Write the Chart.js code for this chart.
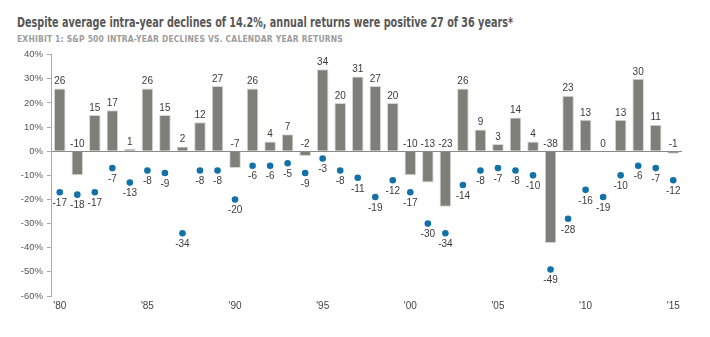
<!DOCTYPE html>
<html>
<head>
<meta charset="utf-8">
<script src="https://cdn.jsdelivr.net/npm/chart.js@4.4.1/dist/chart.umd.min.js"></script>
<style>
  body { margin: 0; background: #fff; width: 710px; height: 337px; overflow: hidden; position: relative; }
  .title, .sub { position: absolute; left: 17px; white-space: nowrap; transform-origin: 0 0; font-family: 'DejaVu Sans', sans-serif; font-stretch: condensed; }
  .title { top: 14px; font-size: 14px; font-weight: 600; color: #575757; }
  .sub { top: 34px; font-size: 9px; font-weight: bold; color: #9c9c9c; letter-spacing: 0.2px; }
  .wrap { position: absolute; left: 0; top: 45px; width: 710px; height: 292px; }
</style>
</head>
<body>
<div class="title" id="title">Despite average intra-year declines of 14.2%, annual returns were positive 27 of 36 years*</div>
<div class="sub" id="sub">EXHIBIT 1: S&amp;P 500 INTRA-YEAR DECLINES VS. CALENDAR YEAR RETURNS</div>
<div class="wrap"><canvas id="chart"></canvas></div>
<script>
const years = [1980, 1981, 1982, 1983, 1984, 1985, 1986, 1987, 1988, 1989,
               1990, 1991, 1992, 1993, 1994, 1995, 1996, 1997, 1998, 1999,
               2000, 2001, 2002, 2003, 2004, 2005, 2006, 2007, 2008, 2009,
               2010, 2011, 2012, 2013, 2014, 2015];
const annualReturns = [26, -10, 15, 17, 1, 26, 15, 2, 12, 27,
                       -7, 26, 4, 7, -2, 34, 20, 31, 27, 20,
                       -10, -13, -23, 26, 9, 3, 14, 4, -38, 23,
                       13, 0, 13, 30, 11, -1];
const intraYearDeclines = [-17, -18, -17, -7, -13, -8, -9, -34, -8, -8,
                           -20, -6, -6, -5, -9, -3, -8, -11, -19, -12,
                           -17, -30, -34, -14, -8, -7, -8, -10, -49, -28,
                           -16, -19, -10, -6, -7, -12];

const FAMILY = "'Liberation Sans', Arial, sans-serif";

// squeeze the heading lines to the width they take in the exhibit
function fitWidth(id, w) {
  const el = document.getElementById(id);
  const r = w / el.getBoundingClientRect().width;
  el.style.transform = 'scaleX(' + r + ')';
}
fitWidth('title', 496);
fitWidth('sub', 326);

const valueLabels = {
  id: 'valueLabels',
  afterDatasetsDraw(chart) {
    const ctx = chart.ctx;
    const zeroY = chart.scales.y.getPixelForValue(0);
    ctx.save();
    ctx.font = '10px ' + FAMILY;
    ctx.fillStyle = '#3a3a3a';
    ctx.textAlign = 'center';

    // bar labels: on top of positive bars, above the zero line for negatives
    ctx.textBaseline = 'bottom';
    chart.getDatasetMeta(0).data.forEach((el, i) => {
      const v = annualReturns[i];
      const y = v > 0 ? el.y - 2 : zeroY - 2;
      ctx.fillText(String(v), el.x, y);
    });

    // dot labels sit just below each dot
    ctx.textBaseline = 'top';
    chart.getDatasetMeta(1).data.forEach((el, i) => {
      ctx.fillText(String(intraYearDeclines[i]), el.x, el.y + 6);
    });
    ctx.restore();
  }
};

new Chart(document.getElementById('chart'), {
  data: {
    labels: years,
    datasets: [
      {
        type: 'bar',
        label: 'Calendar year return',
        data: annualReturns,
        backgroundColor: '#7f7f79',
        borderColor: '#d6d6d2',
        borderWidth: 1,
        categoryPercentage: 1,
        barPercentage: 0.66,
        order: 2
      },
      {
        type: 'line',
        label: 'Intra-year decline',
        data: intraYearDeclines,
        showLine: false,
        pointRadius: 3.3,
        pointBackgroundColor: '#1271a6',
        pointBorderWidth: 0,
        order: 1
      }
    ]
  },
  options: {
    responsive: true,
    maintainAspectRatio: false,
    animation: false,
    layout: { padding: { top: 4, right: 28, left: 0, bottom: 21 } },
    plugins: { legend: { display: false }, tooltip: { enabled: false } },
    scales: {
      x: {
        grid: { display: false, drawTicks: false, tickLength: 0 },
        border: { display: false },
        ticks: {
          autoSkip: false,
          maxRotation: 0,
          padding: 4,
          color: '#444',
          font: { size: 10, family: FAMILY },
          callback(val, i) {
            const yr = years[i];
            return yr % 5 === 0 ? "'" + String(yr).slice(2) : '';
          }
        }
      },
      y: {
        min: -60,
        max: 40,
        afterFit(scale) { scale.width = 51; },
        grid: {
          color: (c) => c.tick && c.tick.value === 0 ? '#8a8a8a' : 'transparent',
          tickColor: '#aaa',
          tickLength: 4,
          lineWidth: 1
        },
        border: { display: true, color: '#aaa' },
        ticks: {
          stepSize: 10,
          padding: 4,
          color: '#555',
          font: { size: 9.5, family: FAMILY },
          callback: (v) => v + '%'
        }
      }
    }
  },
  plugins: [valueLabels]
});
</script>
</body>
</html>
